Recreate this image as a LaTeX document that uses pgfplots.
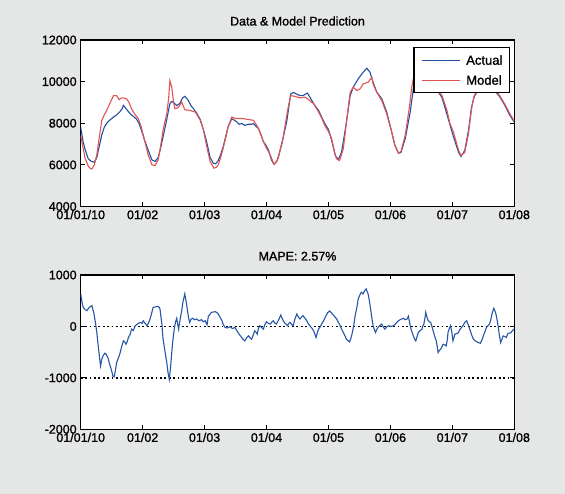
\documentclass[border=0pt]{standalone}
\usepackage{pgfplots}
\pgfplotsset{compat=1.18}
\usepackage{fontspec}
\setmainfont{Liberation Sans}[BoldFont={Liberation Sans}, BoldFeatures={FakeBold=1.2}]
\definecolor{figbg}{RGB}{228,231,229}
\definecolor{actblue}{RGB}{34,80,160}
\definecolor{modred}{RGB}{226,84,84}
\definecolor{errblue}{RGB}{38,86,166}

\pgfplotstableread{
m v
0.00 7800
0.04 7100
0.07 6750
0.12 6300
0.17 6170
0.22 6130
0.26 6350
0.30 6900
0.34 7430
0.38 7800
0.42 8000
0.47 8150
0.53 8300
0.58 8400
0.63 8540
0.67 8700
0.69 8860
0.72 8750
0.77 8560
0.82 8400
0.87 8280
0.90 8200
0.94 8000
0.98 7670
1.03 7200
1.09 6700
1.15 6240
1.20 6160
1.25 6350
1.29 6800
1.33 7350
1.39 8200
1.44 8950
1.47 9050
1.50 9000
1.55 8850
1.60 8950
1.64 9200
1.68 9290
1.71 9200
1.74 9080
1.78 8850
1.82 8700
1.87 8500
1.93 8180
1.98 7700
2.03 7150
2.09 6350
2.14 6080
2.18 6050
2.22 6200
2.26 6500
2.30 6870
2.34 7350
2.38 7830
2.44 8220
2.48 8150
2.52 8060
2.56 7950
2.60 7985
2.65 7900
2.71 7950
2.76 7950
2.79 7985
2.83 7850
2.87 7750
2.91 7450
2.95 7110
2.99 6950
3.03 6715
3.08 6240
3.12 6030
3.17 6200
3.21 6600
3.25 7030
3.29 7600
3.33 8140
3.36 8800
3.39 9400
3.43 9480
3.46 9440
3.50 9380
3.54 9330
3.59 9330
3.63 9400
3.66 9450
3.70 9250
3.73 9100
3.78 8850
3.84 8620
3.89 8300
3.94 7985
4.00 7700
4.05 7190
4.11 6450
4.16 6255
4.21 6605
4.25 7300
4.29 8050
4.35 9330
4.40 9730
4.48 10135
4.56 10450
4.62 10645
4.67 10450
4.72 9970
4.78 9490
4.86 9180
4.94 8540
5.02 7590
5.07 6950
5.13 6560
5.17 6590
5.24 7270
5.32 8540
5.37 9650
5.45 10100
5.55 10300
5.65 10000
5.75 9600
5.83 9250
5.91 8450
6.02 7330
6.10 6605
6.14 6400
6.20 6690
6.26 7650
6.31 8770
6.35 9250
6.45 9800
6.55 10000
6.65 9700
6.77 9250
6.85 8850
6.93 8370
7.00 8050
}\actual

\pgfplotstableread{
m v
0.00 7400
0.04 6800
0.07 6320
0.12 5950
0.15 5840
0.18 5800
0.22 6000
0.26 6480
0.30 7300
0.34 8140
0.38 8400
0.42 8620
0.47 8950
0.53 9330
0.58 9330
0.62 9130
0.66 9220
0.69 9220
0.74 9170
0.78 9000
0.82 8700
0.87 8450
0.93 8220
0.97 7900
1.01 7430
1.05 6950
1.09 6480
1.15 6000
1.20 5970
1.25 6240
1.29 6900
1.33 7670
1.39 8460
1.42 9200
1.44 10050
1.47 9730
1.50 9000
1.52 8700
1.55 8720
1.58 8780
1.63 9020
1.66 8800
1.68 8650
1.72 8630
1.76 8620
1.80 8580
1.85 8540
1.89 8350
1.93 8140
1.98 7700
2.03 6950
2.09 6160
2.15 5840
2.19 5880
2.22 6000
2.26 6350
2.30 6800
2.34 7300
2.38 7830
2.44 8300
2.48 8250
2.52 8220
2.58 8230
2.63 8220
2.70 8180
2.75 8160
2.79 8140
2.83 7950
2.87 7750
2.91 7450
2.95 7110
3.00 6800
3.06 6480
3.12 6030
3.15 6100
3.19 6320
3.23 6850
3.27 7350
3.34 8620
3.39 9330
3.46 9290
3.54 9220
3.62 9250
3.67 9170
3.71 9050
3.76 8940
3.84 8540
3.89 8250
3.94 7900
4.00 7600
4.05 7270
4.10 6600
4.13 6290
4.18 6210
4.24 6770
4.29 8050
4.35 9490
4.40 9730
4.46 9570
4.51 9650
4.56 9890
4.64 9970
4.70 10210
4.72 9890
4.78 9490
4.86 9090
4.94 8450
5.02 7590
5.07 6980
5.13 6560
5.17 6640
5.24 7430
5.31 8850
5.34 9650
5.37 10135
5.45 10300
5.55 10200
5.65 9900
5.75 9600
5.83 9350
5.91 8650
5.96 8000
6.02 7550
6.10 6700
6.14 6450
6.20 6600
6.26 7500
6.31 8700
6.35 9300
6.45 9900
6.55 10100
6.65 9800
6.77 9300
6.85 8900
6.93 8450
7.00 8100
}\model

\pgfplotstableread{
m v
0.00 633
0.02 480
0.04 372
0.07 330
0.10 307
0.14 372
0.18 405
0.21 274
0.24 60
0.26 -118
0.28 -346
0.30 -560
0.32 -770
0.34 -640
0.36 -575
0.39 -520
0.41 -542
0.44 -610
0.46 -705
0.49 -820
0.52 -966
0.54 -980
0.56 -860
0.58 -705
0.61 -610
0.63 -542
0.66 -400
0.69 -281
0.71 -300
0.73 -346
0.75 -300
0.77 -215
0.80 -150
0.82 -52
0.85 -80
0.88 13
0.92 50
0.96 78
0.99 60
1.01 111
1.04 60
1.07 13
1.10 80
1.12 144
1.15 280
1.17 372
1.21 380
1.24 392
1.26 380
1.28 340
1.31 50
1.33 -248
1.36 -480
1.39 -705
1.41 -900
1.43 -1030
1.45 -800
1.47 -509
1.49 -250
1.51 -52
1.53 80
1.55 157
1.58 -52
1.61 176
1.63 300
1.65 470
1.68 633
1.70 500
1.72 340
1.74 180
1.76 78
1.78 140
1.81 157
1.84 130
1.87 144
1.91 110
1.95 131
1.98 90
2.01 111
2.04 30
2.06 196
2.09 240
2.11 274
2.14 280
2.17 287
2.20 270
2.22 242
2.25 180
2.28 111
2.30 40
2.33 -20
2.37 -30
2.41 -7
2.45 -40
2.49 -20
2.52 -80
2.54 -118
2.57 -170
2.60 -215
2.62 -250
2.65 -281
2.68 -220
2.71 -183
2.74 -230
2.76 -248
2.79 -150
2.81 -85
2.83 -110
2.85 -150
2.87 -40
2.89 13
2.92 -20
2.95 -52
2.97 30
3.00 91
3.03 60
3.06 46
3.09 90
3.11 111
3.13 70
3.16 46
3.20 140
3.23 222
3.25 160
3.27 111
3.30 60
3.34 13
3.36 60
3.38 78
3.41 30
3.43 13
3.46 150
3.49 242
3.51 190
3.54 144
3.57 190
3.59 209
3.62 160
3.65 111
3.67 60
3.70 13
3.73 -30
3.76 -85
3.78 -150
3.80 -215
3.82 -120
3.84 -52
3.87 0
3.89 46
3.93 130
3.96 209
3.99 270
4.02 300
4.05 260
4.08 220
4.10 190
4.13 150
4.16 80
4.19 13
4.21 -50
4.24 -118
4.27 -190
4.29 -248
4.32 -280
4.34 -300
4.36 -240
4.38 -150
4.41 30
4.43 209
4.46 380
4.48 535
4.51 620
4.53 666
4.56 633
4.58 690
4.61 731
4.62 690
4.64 633
4.66 500
4.68 340
4.70 170
4.72 13
4.74 -60
4.76 -118
4.78 -60
4.80 -20
4.83 20
4.86 46
4.88 0
4.91 -52
4.94 -10
4.97 13
5.01 0
5.05 13
5.09 60
5.13 111
5.17 140
5.21 157
5.24 130
5.27 144
5.29 200
5.32 13
5.34 -80
5.37 -183
5.39 -240
5.41 -281
5.43 -200
5.45 -118
5.48 -80
5.51 -52
5.52 0
5.54 46
5.56 180
5.57 274
5.59 180
5.61 111
5.63 90
5.65 78
5.67 0
5.69 -85
5.71 -170
5.74 -281
5.76 -420
5.77 -509
5.79 -470
5.81 -444
5.83 -400
5.85 -346
5.88 -360
5.90 -379
5.92 -250
5.93 -118
5.95 -40
5.97 13
5.99 -100
6.01 -281
6.03 -200
6.04 -150
6.07 -140
6.10 -118
6.12 -60
6.15 -20
6.18 30
6.20 78
6.23 111
6.26 20
6.29 -85
6.31 -160
6.34 -248
6.37 -281
6.40 -300
6.42 -313
6.45 -327
6.48 -260
6.50 -183
6.53 -90
6.55 -20
6.58 20
6.60 46
6.62 130
6.64 242
6.66 320
6.67 353
6.70 260
6.72 144
6.74 0
6.76 -183
6.78 -313
6.80 -250
6.82 -183
6.85 -200
6.87 -215
6.90 -131
6.93 -130
6.95 -118
6.97 -80
7.00 -52
}\err

\pgfplotsset{
  mlab/.style={
    scale only axis,
    width=433.6pt,
    xmin=0, xmax=7,
    xtick={0,1,2,3,4,5,6,7},
    xticklabels={01/01/10,01/02,01/03,01/04,01/05,01/06,01/07,01/08},
    scaled y ticks=false,
    tick align=inside,
    xtick pos=both, ytick pos=both,
    major tick length=4.5pt,
    axis line style={line width=1.1pt, black},
    every tick/.style={black, line width=0.9pt},
    axis background/.style={fill=white},
    tick label style={font=\fontsize{12.5}{14}\selectfont\bfseries, text=black},
    xticklabel style={yshift=0pt},
    yticklabel style={xshift=-0.5pt},
    title style={at={(0.5,1)}, anchor=base, yshift=8.5pt, font=\fontsize{12.5}{14}\selectfont\bfseries},
  }
}

\begin{document}
\begin{tikzpicture}[x=1pt,y=1pt]
\fill[figbg] (0,0) rectangle (565,494);
\begin{axis}[mlab,
  at={(80.7pt,287.5pt)}, anchor=south west,
  height=166.5pt,
  ymin=4000, ymax=12000,
  ytick={4000,6000,8000,10000,12000},
  yticklabels={4000,6000,8000,10000,12000},
  title={Data \& Model Prediction},
  legend image code/.code={\draw[#1, line width=1.3pt] (0pt,0pt) -- (38pt,0pt);},
  legend style={at={(0.99,0.957)}, anchor=north east, draw=black, line width=1.1pt,
    fill=white, inner xsep=7pt, inner ysep=8pt, row sep=11pt,
    nodes={inner sep=0pt, text height=9pt, text depth=0pt, font=\fontsize{13}{14}\selectfont\bfseries},
    /tikz/every odd column/.append style={column sep=6pt}},
  legend cell align=left,
]
\addplot[actblue, line width=1.1pt] table[x=m, y=v] {\actual};
\addlegendentry{Actual}
\addplot[modred, line width=1.1pt] table[x=m, y=v] {\model};
\addlegendentry{Model}
\end{axis}

\begin{axis}[mlab,
  at={(80.7pt,64.7pt)}, anchor=south west,
  height=154.3pt,
  ymin=-2000, ymax=1000,
  ytick={-2000,-1000,0,1000},
  yticklabels={-2000,-1000,0,1000},
  title={MAPE: 2.57\%},
]
\addplot[black, line width=1.4pt, dash pattern=on 1.8pt off 2.6pt] coordinates {(0,0) (7,0)};
\addplot[black, line width=1.4pt, dash pattern=on 1.8pt off 2.6pt] coordinates {(0,-1000) (7,-1000)};
\addplot[errblue, line width=1.1pt] table[x=m, y=v] {\err};
\end{axis}
\end{tikzpicture}
\end{document}
